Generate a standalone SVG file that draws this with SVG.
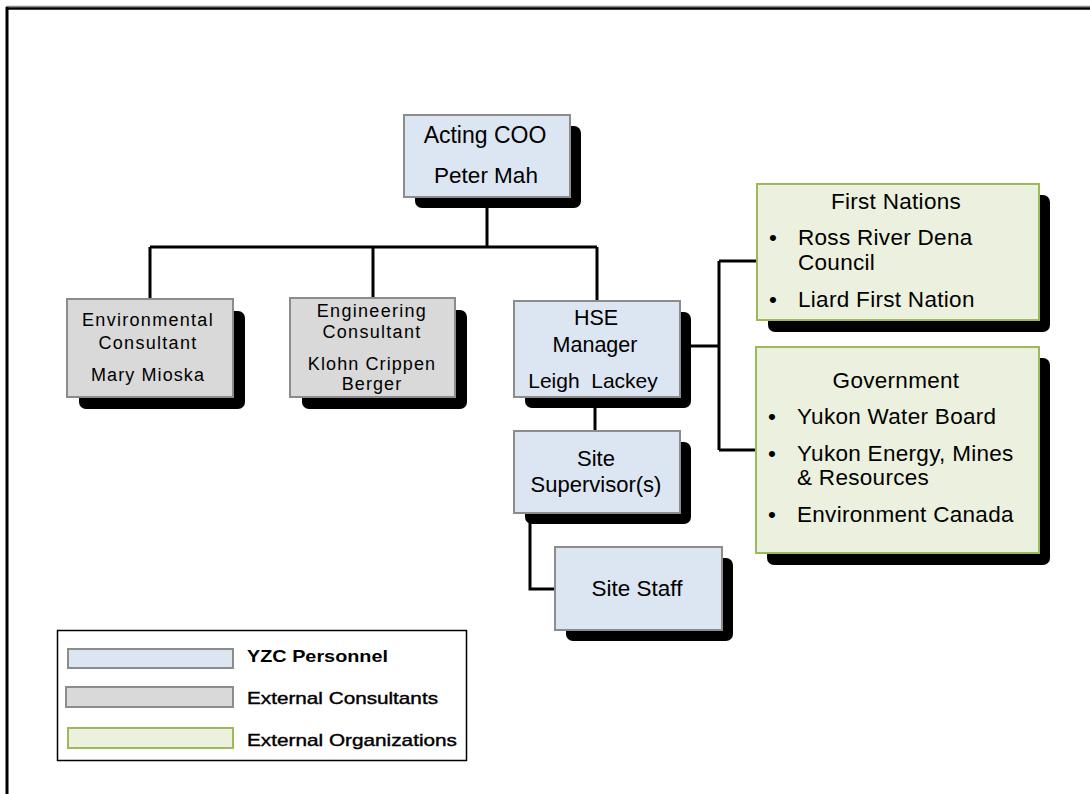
<svg xmlns="http://www.w3.org/2000/svg" width="1090" height="794" viewBox="0 0 1090 794">
<style>
.t{font-family:"Liberation Sans",Arial,sans-serif;fill:#000;text-anchor:middle}
.l{font-family:"Liberation Sans",Arial,sans-serif;fill:#000}
.sh{fill:#000}
.yzc{fill:#dce6f2;stroke:#8c8c8c;stroke-width:2}
.ext{fill:#d9d9d9;stroke:#8c8c8c;stroke-width:2}
.org{fill:#ebf1de;stroke:#9bbb59;stroke-width:2}
.c{fill:none;stroke:#000;stroke-width:3}
.b{font-size:22.5px;letter-spacing:0.3px}
</style>
<rect x="0" y="0" width="1090" height="794" fill="#fff"/>
<!-- frame -->
<line x1="6" y1="6.5" x2="1090" y2="6.5" stroke="#8a8a8a" stroke-width="1.5"/>
<line x1="6" y1="8.5" x2="1090" y2="8.5" stroke="#000" stroke-width="2.5"/>
<line x1="7" y1="7" x2="7" y2="794" stroke="#000" stroke-width="3"/>

<g id="connectors">
<path class="c" d="M487 197 V247"/>
<path class="c" d="M150 247 H597"/>
<path class="c" d="M150 247 V299 M373 247 V298 M597 247 V301"/>
<path class="c" d="M595 397 V431"/>
<path class="c" d="M530 513 V589 H555"/>
<path class="c" d="M680 346 H719 M719 261 V450 M719 261 H757 M719 450 H756"/>
</g>

<g id="node-coo">
<rect class="sh" x="415" y="126" width="166" height="82" rx="7"/>
<rect class="yzc" x="404" y="115" width="166" height="82"/>
<text class="t" x="485" y="143" font-size="23">Acting COO</text>
<text class="t" x="486" y="183" font-size="22.5">Peter Mah</text>
</g>

<g id="node-env">
<rect class="sh" x="79" y="311" width="166" height="98" rx="7"/>
<rect class="ext" x="67" y="299" width="166" height="98"/>
<text class="t" x="148" y="326" font-size="18" letter-spacing="1.3">Environmental</text>
<text class="t" x="148" y="349" font-size="18" letter-spacing="1.3">Consultant</text>
<text class="t" x="148" y="381" font-size="18" letter-spacing="1.1">Mary Mioska</text>
</g>

<g id="node-eng">
<rect class="sh" x="302" y="310" width="165" height="99" rx="7"/>
<rect class="ext" x="290" y="298" width="165" height="99"/>
<text class="t" x="372" y="317" font-size="18" letter-spacing="1.3">Engineering</text>
<text class="t" x="372" y="338" font-size="18" letter-spacing="1.3">Consultant</text>
<text class="t" x="372" y="370" font-size="18" letter-spacing="1.1">Klohn Crippen</text>
<text class="t" x="372" y="390" font-size="18" letter-spacing="1.1">Berger</text>
</g>

<g id="node-hse">
<rect class="sh" x="525" y="312" width="166" height="96" rx="7"/>
<rect class="yzc" x="514" y="301" width="166" height="96"/>
<text class="t" x="596" y="325" font-size="21.5">HSE</text>
<text class="t" x="595" y="352" font-size="21.5">Manager</text>
<text class="t" x="593" y="388" font-size="21" xml:space="preserve">Leigh  Lackey</text>
</g>

<g id="node-supervisor">
<rect class="sh" x="525" y="442" width="166" height="82" rx="7"/>
<rect class="yzc" x="514" y="431" width="166" height="82"/>
<text class="t" x="596" y="466" font-size="22">Site</text>
<text class="t" x="596" y="492" font-size="22">Supervisor(s)</text>
</g>

<g id="node-staff">
<rect class="sh" x="566" y="558" width="167" height="83" rx="7"/>
<rect class="yzc" x="555" y="547" width="167" height="83"/>
<text class="t" x="637" y="596" font-size="22.5">Site Staff</text>
</g>

<g id="node-first-nations">
<rect class="sh" x="768" y="195" width="282" height="137" rx="7"/>
<rect class="org" x="757" y="184" width="282" height="136"/>
<text class="t b" x="896" y="209">First Nations</text>
<text class="l b" x="769" y="245">•</text>
<text class="l b" x="798" y="245">Ross River Dena</text>
<text class="l b" x="798" y="270">Council</text>
<text class="l b" x="769" y="307">•</text>
<text class="l b" x="798" y="307">Liard First Nation</text>
</g>

<g id="node-government">
<rect class="sh" x="767" y="358" width="283" height="207" rx="7"/>
<rect class="org" x="756" y="347" width="283" height="206"/>
<text class="t b" x="896" y="388">Government</text>
<text class="l b" x="768" y="424">•</text>
<text class="l b" x="797" y="424">Yukon Water Board</text>
<text class="l b" x="768" y="461">•</text>
<text class="l b" x="797" y="461">Yukon Energy, Mines</text>
<text class="l b" x="797" y="485">&amp; Resources</text>
<text class="l b" x="768" y="522">•</text>
<text class="l b" x="797" y="522">Environment Canada</text>
</g>

<g id="legend">
<rect x="57.5" y="630.5" width="409" height="130" fill="#fff" stroke="#000" stroke-width="1.5"/>
<rect class="yzc" x="68" y="649" width="165" height="19" stroke-width="1.5"/>
<rect class="ext" x="66" y="687" width="167" height="20" stroke-width="1.5"/>
<rect class="org" x="68" y="728" width="165" height="20" stroke-width="1.5"/>
<text class="l" x="247" y="662" font-size="17" font-weight="bold" textLength="141" lengthAdjust="spacingAndGlyphs">YZC Personnel</text>
<text class="l" x="247" y="704" font-size="17" textLength="191" lengthAdjust="spacingAndGlyphs" stroke="#000" stroke-width="0.4">External Consultants</text>
<text class="l" x="247" y="746" font-size="17" textLength="210" lengthAdjust="spacingAndGlyphs" stroke="#000" stroke-width="0.4">External Organizations</text>
</g>
</svg>
